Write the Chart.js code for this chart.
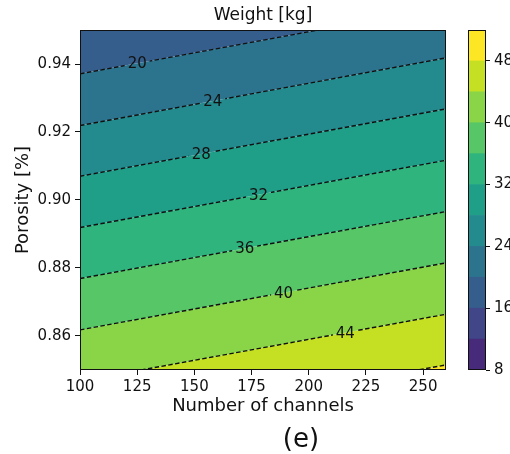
<!DOCTYPE html>
<html><head><meta charset="utf-8">
<script src="https://cdn.jsdelivr.net/npm/chart.js@4.4.0/dist/chart.umd.min.js"></script>
<style>
html,body{margin:0;padding:0;background:#fff;}
#wrap{position:relative;width:510px;height:454px;overflow:hidden;background:#fff;}
#main{position:absolute;left:0;top:0;}
#cbar{position:absolute;left:440px;top:0;}
#tag{position:absolute;left:301px;top:424px;transform:translateX(-50%);font-family:"DejaVu Sans";font-size:26px;line-height:28px;color:#111;white-space:nowrap;}
</style></head><body>
<div id="wrap">
<canvas id="main" width="510" height="454"></canvas>
<canvas id="cbar" width="70" height="454"></canvas>
<div id="tag">(e)</div>
</div>
<script>
// ---- data ----
const levels = [20, 24, 28, 32, 36, 40, 44, 48];                 // contour levels (kg)
const porosityAt100 = [0.9371, 0.9219, 0.9070, 0.8919, 0.8769, 0.8618, 0.8467, 0.8317];
const porosityAt260 = [0.9569, 0.9418, 0.9268, 0.9117, 0.8966, 0.8815, 0.8664, 0.8515];
const channelRange = [100, 260];
const labelChannels = [125, 158, 153, 178, 172, 189, 216, null]; // where inline labels sit
const xTicks = [100, 125, 150, 175, 200, 225, 250];
const yTicks = [0.86, 0.88, 0.90, 0.92, 0.94];
const cbarLevels = [8, 12, 16, 20, 24, 28, 32, 36, 40, 44, 48, 52];
const cbarTicks = [8, 16, 24, 32, 40, 48];

// ---- style helpers ----
const FONT = '"DejaVu Sans", sans-serif';
const INK = '#111';
const VIR = ['#440154','#471365','#482475','#463480','#414487','#3b528b','#355f8d','#2f6c8e','#2a788e','#25848e','#21918c','#1e9c89','#22a884','#2fb47c','#44bf70','#5ec962','#7ad151','#9bd93c','#bddf26','#dfe318','#fde725'];
function hex2rgb(h){return [1,3,5].map(i=>parseInt(h.substr(i,2),16));}
function viridis(t){
  t=Math.max(0,Math.min(1,t)); const f=t*20, i=Math.min(19,Math.floor(f)), u=f-i;
  const a=hex2rgb(VIR[i]), b=hex2rgb(VIR[i+1]);
  return 'rgb('+a.map((v,j)=>Math.round(v+(b[j]-v)*u)).join(',')+')';
}
const bandColors = cbarLevels.slice(0,-1).map((v,k)=>viridis(0.12+0.088*k));
const bandColorFrom = lo => bandColors[cbarLevels.indexOf(lo)];

const lineData = levels.map((v,i)=>[{x:channelRange[0],y:porosityAt100[i]},{x:channelRange[1],y:porosityAt260[i]}]);

// dashed contour lines first (drawn on top)
const datasets = [];
levels.forEach((v,i)=>{
  datasets.push({data: lineData[i], fill:false, borderColor: INK, borderWidth:1.4, borderDash:[4.5,2.4],
    pointRadius:0, order:0, _label: v, _labelN: labelChannels[i], _lvl: i});
});
// filled bands
levels.forEach((v,i)=>{
  datasets.push({data: lineData[i], fill: i===0 ? 'end' : '-1',
    backgroundColor: i===0 ? bandColorFrom(v-4) : bandColorFrom(levels[i-1]),
    borderWidth:0, pointRadius:0, order:1});
});
datasets.push({data: lineData[levels.length-1], fill:'start', backgroundColor: bandColorFrom(levels[levels.length-1]),
  borderWidth:0, pointRadius:0, order:1});

function labelPos(chart, ds){
  const i = ds._lvl, n = ds._labelN;
  const p = porosityAt100[i] + (porosityAt260[i]-porosityAt100[i])*(n-channelRange[0])/(channelRange[1]-channelRange[0]);
  return {x: chart.scales.x.getPixelForValue(n), y: chart.scales.y.getPixelForValue(p)};
}
const contourLabels = {
  id:'contourLabels',
  beforeDatasetDraw(chart, args){
    const ds = chart.data.datasets[args.index];
    if (ds._labelN == null) return;
    const ctx = chart.ctx, pos = labelPos(chart, ds);
    ctx.save();
    ctx.font = '15px ' + FONT;
    const w = ctx.measureText(String(ds._label)).width + 6;
    ctx.beginPath();
    ctx.rect(0,0,chart.width,chart.height);
    ctx.rect(pos.x - w/2, pos.y - 10, w, 20);
    ctx.clip('evenodd');
    ds._clipped = true;
  },
  afterDatasetDraw(chart, args){
    const ds = chart.data.datasets[args.index];
    if (ds._clipped){ chart.ctx.restore(); ds._clipped=false; }
  },
  afterDatasetsDraw(chart){
    const ctx = chart.ctx, a = chart.chartArea;
    chart.data.datasets.forEach(ds=>{
      if (ds._labelN == null) return;
      const pos = labelPos(chart, ds);
      ctx.save();
      ctx.font = '15px ' + FONT; ctx.fillStyle = INK;
      ctx.textAlign='center'; ctx.textBaseline='middle';
      ctx.fillText(String(ds._label), pos.x, pos.y+1);
      ctx.restore();
    });
    ctx.save(); ctx.strokeStyle = INK; ctx.lineWidth = 1;
    ctx.strokeRect(a.left+0.5, a.top+0.5, a.right-a.left-1, a.bottom-a.top-1);
    ctx.restore();
  }
};

new Chart(document.getElementById('main'), {
  type:'line',
  data:{datasets},
  options:{
    responsive:false, animation:false, devicePixelRatio:1,
    layout:{padding:{left:0,right:64,top:0,bottom:0}},
    plugins:{
      legend:{display:false}, tooltip:{enabled:false},
      title:{display:true, text:'Weight [kg]', fullSize:false, color:INK,
        font:{family:FONT, size:17, weight:'normal'}, padding:{top:5,bottom:4.6}}
    },
    scales:{
      x:{type:'linear', min:channelRange[0], max:channelRange[1],
        afterBuildTicks: s=>{s.ticks = xTicks.map(v=>({value:v}));},
        afterFit: s=>{s.height = 84;},
        grid:{drawOnChartArea:false, drawTicks:true, tickLength:5, color:INK, tickColor:INK},
        border:{display:false},
        ticks:{color:INK, font:{family:FONT,size:15}, padding:3, maxRotation:0, callback:v=>String(v)},
        title:{display:true, text:'Number of channels', color:INK, font:{family:FONT,size:18}, padding:{top:0,bottom:37}}
      },
      y:{type:'linear', min:0.85, max:0.95,
        afterBuildTicks: s=>{s.ticks = yTicks.map(v=>({value:v}));},
        afterFit: s=>{s.width = 80;},
        grid:{drawOnChartArea:false, drawTicks:true, tickLength:5, color:INK, tickColor:INK},
        border:{display:false},
        ticks:{color:INK, font:{family:FONT,size:15}, padding:4, callback:v=>v.toFixed(2)},
        title:{display:true, text:'Porosity [%]', color:INK, font:{family:FONT,size:18}, padding:{top:13,bottom:0}}
      }
    }
  },
  plugins:[contourLabels]
});

// ---- colorbar ----
const cbFrame = {id:'cbFrame', afterDatasetsDraw(chart){
  const ctx=chart.ctx, a=chart.chartArea;
  ctx.save(); ctx.strokeStyle=INK; ctx.lineWidth=1;
  ctx.strokeRect(a.left+0.5, a.top+0.5, a.right-a.left-1, a.bottom-a.top-1);
  ctx.restore();
}};
new Chart(document.getElementById('cbar'), {
  type:'bar',
  data:{labels:['w'], datasets: bandColors.map((c,k)=>({data:[[cbarLevels[k], cbarLevels[k+1]]], backgroundColor:c,
    borderWidth:0, barPercentage:1, categoryPercentage:1, grouped:false}))},
  options:{
    responsive:false, animation:false, devicePixelRatio:1,
    layout:{padding:{left:28,right:0,top:30,bottom:84}},
    plugins:{legend:{display:false}, tooltip:{enabled:false}, title:{display:false}},
    scales:{
      x:{display:false, stacked:true},
      y:{position:'right', min:cbarLevels[0], max:cbarLevels[cbarLevels.length-1],
        afterBuildTicks: s=>{s.ticks = cbarTicks.map(v=>({value:v}));},
        afterFit: s=>{s.width = 24;},
        grid:{drawOnChartArea:false, drawTicks:true, tickLength:4, color:INK, tickColor:INK},
        border:{display:false},
        ticks:{color:INK, font:{family:FONT,size:15}, padding:4, callback:v=>String(v)}
      }
    }
  },
  plugins:[cbFrame]
});
</script>
</body></html>
